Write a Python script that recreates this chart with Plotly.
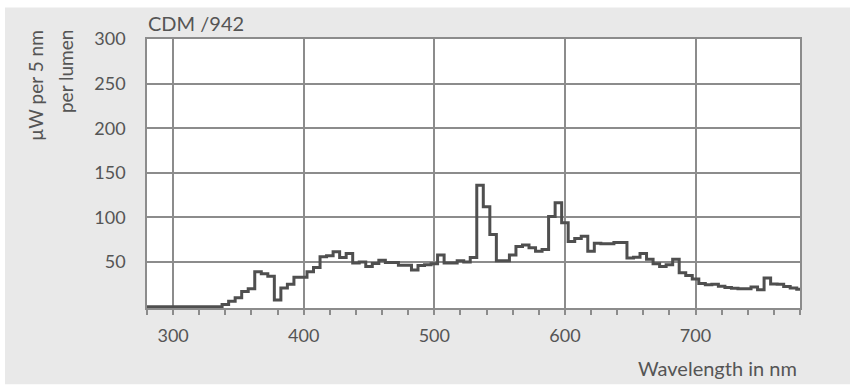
import plotly.graph_objects as go

# Spectral power distribution, 5 nm bins (centre wavelengths)
wavelength_nm = list(range(280, 785, 5))
power_uw = [
    0, 0, 0, 0, 0, 0, 0, 0, 0, 0, 0, 0,          # 280-335
    2.5, 6, 10, 17, 20, 39, 37, 34, 7.5, 21,     # 340-385
    25, 33, 33, 39, 44, 56, 57, 61.5, 55, 59.5,  # 390-435
    49, 50, 45, 48.5, 52, 49.5, 49.5, 46.5, 46.5, 41,  # 440-485
    46, 47, 48, 58, 49, 49, 51.5, 50, 55, 136,   # 490-535
    112, 81, 51.5, 51.5, 58, 67.5, 69, 66, 62, 64,  # 540-585
    101, 116.5, 94, 73, 76.5, 79, 62, 71, 70.5, 70.5,  # 590-635
    72, 72, 54.5, 55.5, 59.5, 53, 48, 45, 47, 53,  # 640-685
    38, 35, 31, 26, 24.5, 25, 23, 21.5, 20.5, 20,  # 690-735
    20, 22, 19, 32, 25.5, 25, 22.5, 21, 19.5,    # 740-780
]

x_ticks = [300, 400, 500, 600, 700]
y_ticks = [50, 100, 150, 200, 250, 300]

GRID = "#8c8c8c"
TEXT = "#555555"
LINE = "#4f4f4f"
FONT = "Lato"

fig = go.Figure()
fig.add_trace(go.Scatter(
    x=wavelength_nm, y=power_uw, mode="lines",
    line=dict(color=LINE, width=3, shape="hvh"),
    hoverinfo="skip", showlegend=False,
))

L, R, T, B = 147, 56, 38.5, 80.5
W, H = 856, 389
pw, ph = W - L - R, H - T - B


def px(xp):
    return (xp - L) / pw


def py(yp):
    return (H - B - yp) / ph


fig.update_layout(
    width=W, height=H,
    margin=dict(l=L, r=R, t=T, b=B),
    paper_bgcolor="white",
    plot_bgcolor="rgba(0,0,0,0)",
    font=dict(family=FONT, size=18, color=TEXT),
    xaxis=dict(
        range=[280, 780], tickvals=x_ticks, ticks="outside", ticklen=5,
        tickcolor=GRID, tickwidth=1.5, ticklabelstandoff=6,
        minor=dict(dtick=20, tick0=0, ticks="outside", ticklen=5,
                   tickcolor=GRID, tickwidth=1.5, showgrid=False),
        showgrid=True, gridcolor=GRID, gridwidth=1.5,
        showline=True, linecolor=GRID, linewidth=1.5, mirror=True,
        zeroline=False, tickfont=dict(size=18, color=TEXT),
    ),
    yaxis=dict(
        range=[-1.5, 300], tickvals=y_ticks, ticks="",
        ticklabelstandoff=16,
        showgrid=True, gridcolor=GRID, gridwidth=1.5,
        showline=True, linecolor=GRID, linewidth=1.5, mirror=True,
        zeroline=False, tickfont=dict(size=18, color=TEXT),
    ),
    shapes=[
        dict(type="rect", xref="paper", yref="paper", layer="below",
             x0=px(5), x1=px(850), y0=py(385), y1=py(7),
             fillcolor="#e9e9e9", line=dict(width=0)),
        dict(type="rect", xref="paper", yref="paper", layer="below",
             x0=0, x1=1, y0=0, y1=1,
             fillcolor="white", line=dict(width=0)),
    ],
    annotations=[
        dict(text="CDM /942", xref="paper", yref="paper",
             x=px(146), y=py(22), xanchor="left", yanchor="middle",
             showarrow=False, font=dict(size=20, color=TEXT)),
        dict(text="Wavelength in nm", xref="paper", yref="paper",
             x=px(799), y=py(369), xanchor="right", yanchor="middle",
             showarrow=False, font=dict(size=20, color=TEXT)),
        dict(text="µW per 5 nm", xref="paper", yref="paper",
             x=px(35), y=py(28), xanchor="center", yanchor="top",
             textangle=-90, showarrow=False, font=dict(size=19, color=TEXT)),
        dict(text="per lumen", xref="paper", yref="paper",
             x=px(65), y=py(28), xanchor="center", yanchor="top",
             textangle=-90, showarrow=False, font=dict(size=19, color=TEXT)),
    ],
)

fig.write_html("out.html")
